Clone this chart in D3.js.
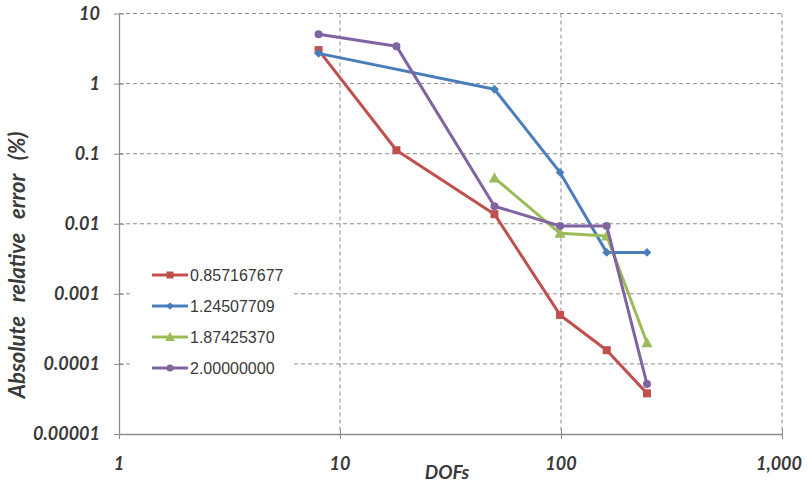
<!DOCTYPE html>
<html>
<head>
<meta charset="utf-8">
<script src="https://cdn.jsdelivr.net/npm/d3@7"></script>
<style>
html,body{margin:0;padding:0;background:#fff;}
svg{display:block;}
</style>
</head>
<body>
<svg id="chart" width="809" height="483"></svg>
<script>
// ---- data ----
const xTicks = [1, 10, 100, 1000];
const xTickLabels = ["1", "10", "100", "1,000"];
const yTicks = [0.00001, 0.0001, 0.001, 0.01, 0.1, 1, 10];
const yTickLabels = ["0.00001", "0.0001", "0.001", "0.01", "0.1", "1", "10"];

const seriesNames = ["0.857167677", "1.24507709", "1.87425370", "2.00000000"];

const dofsRed = [8, 18, 50, 99, 161, 245];
const errRed = [3.0, 0.112, 0.0137, 0.0005, 0.000157, 0.000038];

const dofsBlue = [8, 50, 99, 161, 245];
const errBlue = [2.7, 0.83, 0.054, 0.0039, 0.0039];

const dofsGreen = [50, 99, 161, 245];
const errGreen = [0.045, 0.0073, 0.0067, 0.0002];

const dofsPurple = [8, 18, 50, 99, 161, 245];
const errPurple = [5.07, 3.42, 0.0178, 0.0093, 0.0093, 0.0000515];

const colors = ["#C0504D", "#4A7EBB", "#9BBB59", "#8064A2"];
const markers = ["square", "diamond", "triangle", "circle"];

const series = [
  {name: seriesNames[0], x: dofsRed, y: errRed},
  {name: seriesNames[1], x: dofsBlue, y: errBlue},
  {name: seriesNames[2], x: dofsGreen, y: errGreen},
  {name: seriesNames[3], x: dofsPurple, y: errPurple}
];

// ---- layout ----
const svg = d3.select("#chart");
const pLeft = 119, pRight = 782, pTop = 13.5, pBottom = 434;
const x = d3.scaleLog().domain([1, 1000]).range([pLeft, pRight]);
const y = d3.scaleLog().domain([0.00001, 10]).range([pBottom, pTop]);

const gridColor = "#8c8c8c";
const labelFont = "Lato, 'Open Sans', sans-serif";

// gridlines
const grid = svg.append("g");
grid.selectAll("line.h").data(yTicks.filter(v => v > 0.00001)).enter().append("line")
  .attr("x1", pLeft).attr("x2", pRight)
  .attr("y1", d => y(d)).attr("y2", d => y(d))
  .attr("stroke", gridColor).attr("stroke-width", 1).attr("stroke-dasharray", "4,3");
grid.selectAll("line.v").data(xTicks.filter(v => v > 1)).enter().append("line")
  .attr("x1", d => x(d)).attr("x2", d => x(d))
  .attr("y1", pTop).attr("y2", pBottom)
  .attr("stroke", gridColor).attr("stroke-width", 1).attr("stroke-dasharray", "4,3");

// axes
const xAxis = d3.axisBottom(x).tickValues(xTicks).tickSizeInner(5).tickSizeOuter(0).tickFormat("");
const xg = svg.append("g").attr("transform", `translate(0,${pBottom})`).call(xAxis);
xg.select(".domain").attr("stroke", "#8c8c8c").attr("stroke-width", 1.3);
xg.selectAll(".tick line").attr("stroke", "#8c8c8c").attr("y1", -5).attr("y2", 5);

const yAxis = d3.axisLeft(y).tickValues(yTicks).tickSizeInner(5).tickSizeOuter(0).tickFormat("");
const yg = svg.append("g").attr("transform", `translate(${pLeft},0)`).call(yAxis);
yg.select(".domain").attr("stroke", "#8c8c8c").attr("stroke-width", 1.3);
yg.selectAll(".tick line").attr("stroke", "#8c8c8c").attr("x1", -5).attr("x2", 5);

// tick labels
svg.append("g").selectAll("text").data(yTicks).enter().append("text")
  .attr("x", 100).attr("y", d => y(d)).attr("dy", "0.36em")
  .attr("text-anchor", "end")
  .attr("font-family", labelFont).attr("font-weight", "bold").attr("font-style", "italic")
  .attr("font-size", 18).attr("fill", "#3a3a3a")
  .text((d, i) => yTickLabels[i]);

svg.append("g").selectAll("text").data(xTicks).enter().append("text")
  .attr("x", (d, i) => x(d) + (i === 3 ? -3 : 0)).attr("y", 470)
  .attr("text-anchor", "middle")
  .attr("font-family", labelFont).attr("font-weight", "bold").attr("font-style", "italic")
  .attr("font-size", 18).attr("fill", "#3a3a3a")
  .text((d, i) => xTickLabels[i]);

// axis titles
svg.append("text").attr("x", 447).attr("y", 479).attr("text-anchor", "middle")
  .attr("font-family", labelFont).attr("font-weight", "bold").attr("font-style", "italic")
  .attr("font-size", 19).attr("fill", "#3a3a3a").text("DOFs");

svg.append("text")
  .attr("transform", "translate(25,265) rotate(-90)")
  .attr("text-anchor", "middle")
  .attr("font-family", labelFont).attr("font-weight", "bold").attr("font-style", "italic")
  .attr("font-size", 22).attr("fill", "#3a3a3a")
  .attr("word-spacing", 9)
  .text("Absolute relative error (%)");

// markers
function drawMarker(g, type, color, size) {
  if (type === "square") {
    g.append("rect").attr("x", -size/2).attr("y", -size/2).attr("width", size).attr("height", size).attr("fill", color);
  } else if (type === "diamond") {
    const s = size * 0.55;
    g.append("path").attr("d", `M0,${-s}L${s},0L0,${s}L${-s},0Z`).attr("fill", color);
  } else if (type === "triangle") {
    const s = size * 0.7;
    g.append("path").attr("d", `M0,${-s}L${s},${s*0.8}L${-s},${s*0.8}Z`).attr("fill", color);
  } else {
    g.append("circle").attr("r", size/2).attr("fill", color);
  }
}

// series
const line = d3.line().x(d => x(d[0])).y(d => y(d[1]));
series.forEach((s, i) => {
  const pts = s.x.map((v, j) => [v, s.y[j]]);
  const g = svg.append("g");
  g.append("path").datum(pts).attr("d", line)
    .attr("fill", "none").attr("stroke", colors[i]).attr("stroke-width", 3)
    .attr("stroke-linejoin", "round");
  pts.forEach(p => {
    const m = g.append("g").attr("transform", `translate(${x(p[0])},${y(p[1])})`);
    drawMarker(m, markers[i], colors[i], 8);
  });
});

// legend
const lg = svg.append("g");
lg.append("rect").attr("x", 133).attr("y", 256).attr("width", 160).attr("height", 127).attr("fill", "#fff");
seriesNames.forEach((n, i) => {
  const yy = 275 + i * 31;
  const g = lg.append("g");
  g.append("line").attr("x1", 152).attr("x2", 188).attr("y1", yy).attr("y2", yy)
    .attr("stroke", colors[i]).attr("stroke-width", 3);
  const m = g.append("g").attr("transform", `translate(170,${yy})`);
  drawMarker(m, markers[i], colors[i], 7);
  g.append("text").attr("x", 190).attr("y", yy).attr("dy", "0.36em")
    .attr("font-family", "'Liberation Sans', Arial, sans-serif").attr("font-size", 16)
    .attr("fill", "#3a3a3a").text(n);
});
</script>
</body>
</html>
